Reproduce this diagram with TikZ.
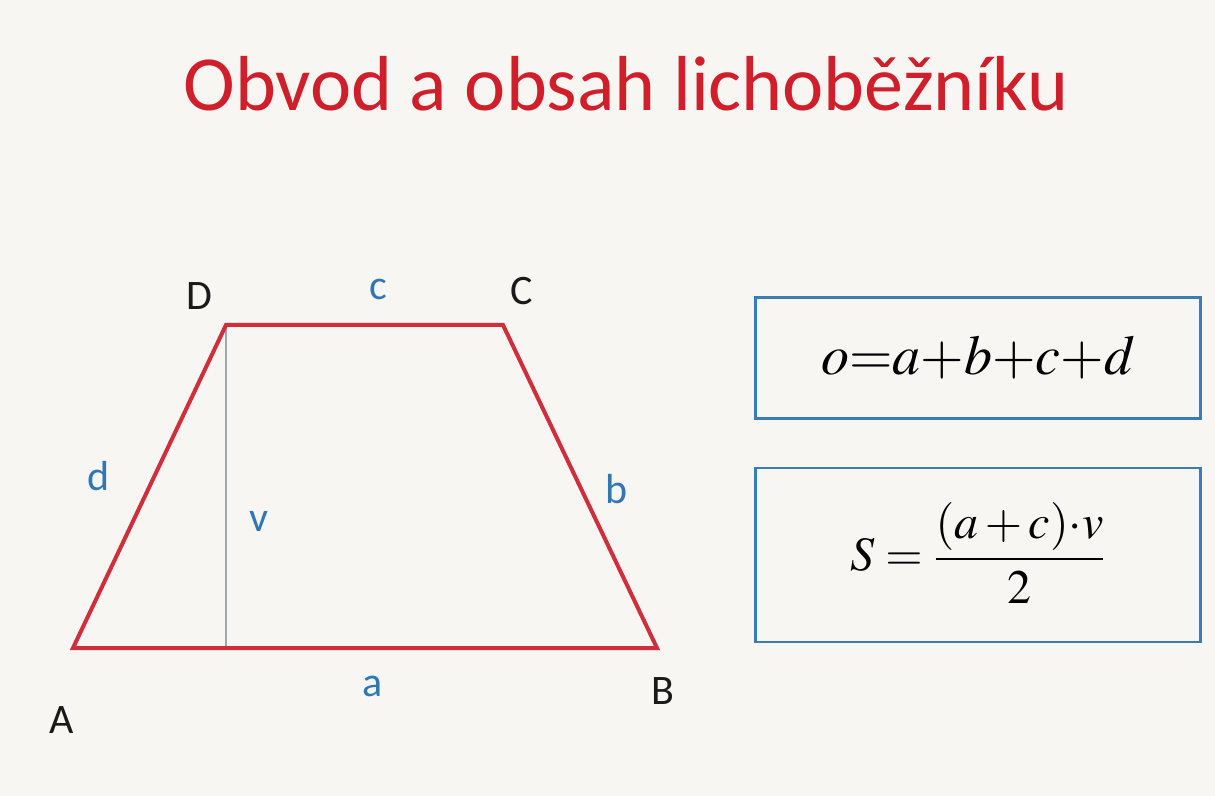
\documentclass[tikz,border=0pt]{standalone}
\usepackage{mathptmx}
\usepackage[no-math]{fontspec}
\setmainfont{Carlito}
\usetikzlibrary{positioning}
\definecolor{trapred}{HTML}{CF2E3A}
\definecolor{titlered}{HTML}{D01F2A}
\definecolor{lblblue}{HTML}{2F78B4}
\definecolor{boxblue}{HTML}{3A7CB4}
\definecolor{hgtgray}{HTML}{9AA6B2}
\definecolor{paper}{HTML}{F8F6F3}
\definecolor{ink}{HTML}{1A1A1A}
\tikzset{
  side/.style={draw=trapred, line width=2pt, line join=miter},
  hgt/.style={draw=hgtgray, line width=0.7pt},
  vtx/.style={font=\fontsize{21}{24}\selectfont, text=ink, inner sep=0pt},
  lbl/.style={font=\fontsize{21}{24}\selectfont, text=lblblue, inner sep=0pt},
  fbox/.style={draw=boxblue, line width=1.4pt, minimum width=222.5pt, inner sep=0pt},
}

\begin{document}
\begin{tikzpicture}[x=0.5pt,y=-0.5pt]
      \fill[paper] (0,0) rectangle (1215,796);
      \useasboundingbox (0,0) rectangle (1215,796);
      \node[text=titlered, font=\fontsize{39}{44}\selectfont] (title) at (626,84) {Obvod a obsah lichoběžníku};
      % trapezoid
      \coordinate (A) at (73,648);
      \coordinate (B) at (657,648);
      \coordinate (C) at (503,325);
      \coordinate (D) at (226,325);
      \coordinate (P) at (226,648);
      \draw[hgt] (D) -- (P);
      \draw[side] (A) -- (B) -- (C) -- (D) -- cycle;
      \node[vtx] (nA) at (62,720) {A};
      \node[vtx] (nB) at (663,691) {B};
      \node[vtx] (nC) at (522,291) {C};
      \node[vtx] (nD) at (199,296) {D};
      \node[lbl] (la) at (373,686) {a};
      \node[lbl] (lb) at (617,489) {b};
      \node[lbl] (lc) at (378,289) {c};
      \node[lbl] (ld) at (99,476) {d};
      \node[lbl] (lv) at (259,521) {v};
      % formulas
      \node[fbox, minimum height=60.5pt] (perim) at (978,358) {};
      \node[fbox, minimum height=87pt] (area) at (978,555) {};
      \node[font=\fontsize{28}{32}\selectfont] (fo) at (perim.center) {$o{=}a{+}b{+}c{+}d$};
      \node[font=\fontsize{24}{28}\selectfont] (fs) at ([yshift=1pt]area.center) {$\displaystyle S=\frac{(a+c){\cdot}v}{2}$};
    \end{tikzpicture}
\end{document}
